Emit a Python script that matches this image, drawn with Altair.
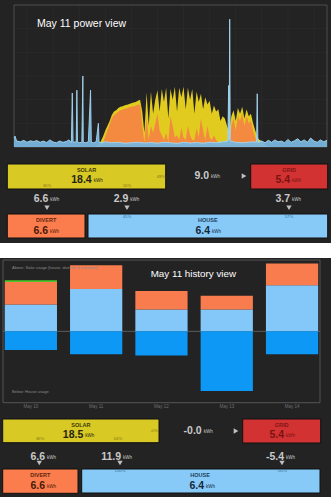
import altair as alt
import pandas as pd

# ======================= DATA =======================
# --- power view, May 11 (W) ---
solar_start_h = 6.0          # first solar sample 06:00
solar_step_min = 10          # one sample every 10 minutes
solar_w = [0, 20, 60, 120, 250, 450, 700, 900, 1100, 1350, 1500, 1550,
           1650, 1700, 1720, 1760, 1780, 1820, 1850, 1880, 1900, 1950, 2000, 1500,
           600, 2300, 900, 2350, 1400, 2000, 2400, 1500, 2450, 1900, 2500, 1200,
           2450, 2000, 2550, 1500, 2500, 2100, 2550, 1600, 2500, 2000, 2450, 1400,
           2350, 1900, 2250, 1600, 2100, 1800, 1950, 1400, 1750, 1500, 1600, 1100,
           1300, 1200, 900, 600, 1300, 1550, 1100, 1650, 1400, 1700, 1200, 1600,
           1300, 1400, 1000, 700, 400, 300, 250, 150, 60, 0]
divert_w = [0, 0, 0, 0, 50, 200, 450, 700, 950, 1200, 1350, 1400,
            1500, 1550, 1580, 1620, 1640, 1680, 1700, 1720, 1740, 1780, 1800, 900,
            200, 1200, 300, 900, 600, 1000, 1400, 700, 500, 300, 600, 200,
            1300, 900, 400, 500, 300, 800, 400, 300, 900, 500, 300, 300,
            800, 400, 1200, 700, 300, 900, 400, 300, 500, 300, 200, 100,
            100, 100, 100, 100, 900, 1200, 700, 1300, 1100, 1400, 900, 1300,
            1000, 1100, 700, 400, 150, 50, 0, 0, 0, 0]
house_h = [0.0, 0.08, 0.2, 0.5, 0.75, 1.0, 1.25, 1.5, 1.75, 2.0, 2.25, 2.5, 2.75,
           3.0, 3.25, 3.5, 3.75, 4.0, 4.2, 4.4, 4.47, 4.53, 4.77, 4.82, 4.87,
           5.0, 5.2, 5.28, 5.31, 5.5, 5.7, 5.87, 5.93, 6.1, 6.3, 6.47, 6.52,
           6.75, 7.0, 7.5, 8.0, 8.5, 9.0, 9.5, 10.0, 10.5, 11.0, 11.5, 12.0,
           12.5, 13.0, 13.5, 14.0, 14.5, 15.0, 15.5, 16.0, 16.4, 16.46, 16.5,
           16.54, 16.58, 17.0, 17.5, 18.0, 18.3, 18.6, 18.65, 18.7, 19.0, 19.25,
           19.5, 19.75, 20.0, 20.25, 20.5, 20.75, 21.0, 21.25, 21.5, 21.75, 22.0,
           22.25, 22.5, 22.75, 23.0, 23.25, 23.5, 23.75, 24.0]
house_w = [400, 460, 250, 220, 280, 200, 260, 230, 270, 200, 250, 190, 300,
           210, 180, 250, 200, 230, 300, 200, 2280, 200, 220, 2400, 220,
           180, 200, 3000, 200, 180, 220, 2400, 200, 180, 220, 1000, 200,
           180, 220, 180, 200, 160, 180, 200, 170, 190, 160, 200, 180,
           150, 200, 170, 190, 160, 200, 180, 220, 250, 2600, 300,
           5400, 250, 200, 180, 200, 220, 200, 2250, 200, 250, 180,
           280, 200, 300, 220, 250, 180, 320, 200, 260, 350, 220,
           300, 200, 380, 250, 200, 300, 220, 280]
power_y_ticks = [0, 1000, 2000, 3000, 4000, 5000, 6000]
power_x_ticks = [1, 3, 5, 7, 9, 11, 13, 15, 17, 19, 21, 23]

# --- history view (kWh per day) ---
hist_dates = ["May 10", "May 11", "May 12", "May 13", "May 14"]
hist_solar_house = [7.5, 11.9, 6.1, 6.1, 12.9]
hist_divert = [6.3, 6.6, 5.2, 3.9, 6.1]
hist_export = [0.5, 0.0, 0.0, 0.0, 0.0]
hist_house_use = [-5.2, -6.4, -6.8, -16.7, -6.4]

# --- summary panels (kWh and %) ---
power_summary = dict(solar=18.4, export=9.0, grid=5.4, divert=6.6, house=6.4,
                     solar_to_divert=6.6, solar_to_house=2.9, grid_to_house=3.7,
                     pct_divert=36, pct_house=16, pct_export=49,
                     house_pct_solar=45, house_pct_grid=57)
history_summary = dict(solar=18.5, export=-0.0, grid=5.4, divert=6.6, house=6.4,
                       solar_to_divert=6.6, solar_to_house=11.9, grid_to_house=-5.4,
                       pct_divert=36, pct_house=64, pct_export=-0.0,
                       house_pct_solar=100, house_pct_grid=-85)

titles = ["May 11 power view", "May 11 history view"]
hist_notes = ["Above: Solar usage (house, diverter & exported)", "Below: House usage"]

# ======================= STYLE / LAYOUT =======================
W = 331
DARK = "#232323"
FONT = "Liberation Sans"
TITLE_FONT = "Liberation Sans Narrow, Liberation Sans"
C_SOLAR, C_GRID, C_DIVERT, C_HOUSE = "#d9c925", "#d33232", "#fb7d4d", "#87caf8"
C_AREA_Y, C_AREA_O, C_AREA_B, C_LINE_B = "#e2cb1f", "#f38a40", "#78b5de", "#a4d6f2"
H_ORANGE, H_LIGHT, H_DARK, H_GREEN = "#f97c4e", "#84c8fa", "#0d98f5", "#4cc42a"

dark_view = alt.ViewBackground(fill=DARK, stroke=None)

# ======================= POWER CHART =======================
A1_H = 155
px_per_h = 313 / 24.0
px_per_w = 142 / 6000.0
xs = alt.Scale(domain=[-14 / px_per_h, 24 + 4 / px_per_h], nice=False, zero=False)
ys = alt.Scale(domain=[-(A1_H - 147) / px_per_w, 6000 + 5 / px_per_w], nice=False, zero=False)

solar_df = pd.DataFrame({
    "h": [solar_start_h + i * solar_step_min / 60.0 for i in range(len(solar_w))],
    "solar": solar_w, "divert": divert_w})
house_df = pd.DataFrame({"h": house_h, "house": house_w})

x_axis = alt.Axis(values=power_x_ticks, orient="bottom", offset=-(A1_H - 147),
                  labelExpr="(datum.value < 10 ? '0' : '') + datum.value + ':00'",
                  ticks=False, domain=False, grid=False, title=None,
                  labelFontSize=4.5, labelColor="#7a7a7a", labelPadding=2,
                  labelFlush=False, labelOverlap=False)
y_axis = alt.Axis(values=power_y_ticks, orient="left", offset=-14, format="d",
                  ticks=False, domain=False, grid=False, title=None,
                  labelFontSize=4, labelColor="#6a6a6a", labelPadding=1.5,
                  labelFlush=False, labelOverlap=False)

hgrid_df = pd.DataFrame({"v": power_y_ticks[1:], "h0": 0, "h1": 24})
vgrid_df = pd.DataFrame({"h": power_x_ticks, "v0": 0, "v1": 6000})
frame_df = pd.DataFrame({"h0": [0], "h1": [24], "v0": [0], "v1": [6000]})

hgrid = alt.Chart(hgrid_df).mark_rule(color="#2e2e2e", strokeWidth=0.6).encode(
    y=alt.Y("v:Q", scale=ys, axis=None),
    x=alt.X("h0:Q", scale=xs, axis=None), x2="h1:Q")
vgrid = alt.Chart(vgrid_df).mark_rule(color="#2e2e2e", strokeWidth=0.6).encode(
    x=alt.X("h:Q", scale=xs, axis=None),
    y=alt.Y("v0:Q", scale=ys, axis=None), y2="v1:Q")
frame = alt.Chart(frame_df).mark_rect(fillOpacity=0, stroke="#4d4d4d", strokeWidth=1).encode(
    x=alt.X("h0:Q", scale=xs, axis=None), x2="h1:Q",
    y=alt.Y("v0:Q", scale=ys, axis=None), y2="v1:Q")

solar_area = alt.Chart(solar_df).mark_area(color=C_AREA_Y).encode(
    x=alt.X("h:Q", scale=xs, axis=x_axis),
    y=alt.Y("solar:Q", scale=ys, axis=y_axis))
divert_area = alt.Chart(solar_df).mark_area(color=C_AREA_O).encode(
    x=alt.X("h:Q", scale=xs, axis=None), y=alt.Y("divert:Q", scale=ys, axis=None))
house_area = alt.Chart(house_df).mark_area(color=C_AREA_B, opacity=0.95).encode(
    x=alt.X("h:Q", scale=xs, axis=None), y=alt.Y("house:Q", scale=ys, axis=None))
house_line = alt.Chart(house_df).mark_line(color=C_LINE_B, strokeWidth=0.9).encode(
    x=alt.X("h:Q", scale=xs, axis=None), y=alt.Y("house:Q", scale=ys, axis=None))
power_title = alt.Chart(pd.DataFrame({"t": [titles[0]]})).mark_text(
    align="left", baseline="alphabetic", fontSize=10.5, color="white",
    font=TITLE_FONT).encode(x=alt.value(37), y=alt.value(26.7), text="t:N")

power_chart = alt.layer(hgrid, vgrid, frame, solar_area, divert_area, house_area,
                        house_line, power_title).properties(
    width=W, height=A1_H, view=dark_view)


# ======================= SUMMARY PANELS =======================
def summary_panel(v, L, H):
    # identity pixel scales: x domain [0, W] -> [0, W]; y domain [H, 0] -> [H, 0]
    sx = alt.Scale(domain=[0, W], nice=False, zero=False)
    sy = alt.Scale(domain=[H, 0], nice=False, zero=False)
    X = alt.X("x:Q", scale=sx, axis=None)
    Y = alt.Y("y:Q", scale=sy, axis=None)
    fills = {"solar": C_SOLAR, "grid": C_GRID, "divert": C_DIVERT, "house": C_HOUSE}
    names = {"solar": "SOLAR", "grid": "GRID", "divert": "DIVERT", "house": "HOUSE"}
    name_col = {"solar": "#3d380a", "grid": "#7e1616", "divert": "#5e2512", "house": "#1e3b58"}
    num_col = {"solar": "#252510", "grid": "#7a1212", "divert": "#4a1a08", "house": "#15283c"}

    box_rows, lab_rows, num_rows = [], [], []
    for k in ["solar", "grid", "divert", "house"]:
        x0, y0, x1, y1 = L["box"][k]
        box_rows.append(dict(x=x0, x2=x1, y=y0, y2=y1, c=fills[k]))
        lab_rows.append(dict(x=(x0 + x1) / 2 + L["lab_dx"][k], y=y0 + 6, t=names[k], c=name_col[k]))
        xr, yy = L["num"][k]
        num_rows.append(dict(x=xr, y=yy, t=f"{v[k]:.1f}", c=num_col[k]))
    for k in ["export", "solar_to_divert", "solar_to_house", "grid_to_house"]:
        xr, yy = L["num"][k]
        num_rows.append(dict(x=xr, y=yy, t=f"{v[k]:.1f}", c="#c9c9c9"))
    pct_rows = []
    for k, col in [("pct_divert", "#857a16"), ("pct_house", "#857a16"),
                   ("pct_export", "#857a16"), ("house_pct_solar", "#3e7096"),
                   ("house_pct_grid", "#3e7096")]:
        xx, yy = L["pct"][k]
        pct_rows.append(dict(x=xx, y=yy, t=f"{v[k]:.0f}%", c=col))
    unit_rows = [dict(x=r["x"] + 2, y=r["y"] + 1.3, t="kWh", c=r["c"]) for r in num_rows]
    tri_rows = [dict(x=xx, y=yy, s=s) for (s, xx, yy) in L["tri"]]

    boxes = alt.Chart(pd.DataFrame(box_rows)).mark_rect(stroke="#111111", strokeWidth=1).encode(
        x=X, x2="x2:Q", y=Y, y2="y2:Q", color=alt.Color("c:N", scale=None))
    labels = alt.Chart(pd.DataFrame(lab_rows)).mark_text(
        fontSize=5.5, fontWeight="bold", font=FONT, baseline="middle").encode(
        x=X, y=Y, text="t:N", color=alt.Color("c:N", scale=None))
    nums = alt.Chart(pd.DataFrame(num_rows)).mark_text(
        fontSize=10.5, fontWeight="bold", font=FONT, align="right", baseline="middle").encode(
        x=X, y=Y, text="t:N", color=alt.Color("c:N", scale=None))
    units = alt.Chart(pd.DataFrame(unit_rows)).mark_text(
        fontSize=4.5, font=FONT, align="left", baseline="middle").encode(
        x=X, y=Y, text="t:N", color=alt.Color("c:N", scale=None))
    pcts = alt.Chart(pd.DataFrame(pct_rows)).mark_text(
        fontSize=4.3, font=FONT, baseline="middle").encode(
        x=X, y=Y, text="t:N", color=alt.Color("c:N", scale=None))
    tris = alt.Chart(pd.DataFrame(tri_rows)).mark_point(
        filled=True, size=28, color="#c0c0c0", opacity=1).encode(
        x=X, y=Y, shape=alt.Shape("s:N", scale=None))
    return alt.layer(boxes, labels, nums, units, pcts, tris).properties(
        width=W, height=H, view=dark_view)


A2_H = 88
L_top = dict(
    box={"solar": (7.3, 9, 165.7, 34), "grid": (250.7, 9, 327.7, 34),
         "divert": (7.3, 59, 85, 83), "house": (88, 59, 327.7, 83)},
    lab_dx={"solar": 0, "grid": 0, "divert": 0, "house": 0},
    num={"solar": (91.7, 24.5), "grid": (290, 24.5), "divert": (48, 75.5), "house": (210, 75.5),
         "export": (209, 21), "solar_to_divert": (48.3, 44), "solar_to_house": (128.3, 44),
         "grid_to_house": (290, 44)},
    pct={"pct_divert": (47, 30.5), "pct_house": (127, 30.5), "pct_export": (161, 21.7),
         "house_pct_solar": (127, 62), "house_pct_grid": (289, 62)},
    tri=[("triangle-right", 244, 21), ("triangle-down", 47, 52.7),
         ("triangle-down", 127, 52.7), ("triangle-down", 289, 52.7)])

B2_H = 87
L_bot = dict(
    box={"solar": (2.7, 9, 159, 32.7), "grid": (242.7, 9, 320.7, 33),
         "divert": (2.7, 59, 78, 83.3), "house": (81.7, 59, 320, 83)},
    lab_dx={"solar": 0, "grid": 0, "divert": 0, "house": -0.8},
    num={"solar": (83.3, 25), "grid": (284, 25), "divert": (45, 76), "house": (204, 76),
         "export": (201.7, 21), "solar_to_divert": (45, 46.7), "solar_to_house": (121, 46.7),
         "grid_to_house": (284, 46.7)},
    pct={"pct_divert": (40, 29), "pct_house": (118, 29), "pct_export": (154, 21),
         "house_pct_solar": (120, 61), "house_pct_grid": (282, 61)},
    tri=[("triangle-right", 236, 21), ("triangle-down", 39.3, 53),
         ("triangle-down", 120, 53), ("triangle-down", 282, 53)])

# ======================= HISTORY CHART =======================
B1_H = 152
parts = ["house_solar", "divert", "export", "house_use"]
hist_rows = []
for i, d in enumerate(hist_dates):
    for o, (p, vals) in enumerate(zip(parts, [hist_solar_house, hist_divert,
                                               hist_export, hist_house_use])):
        hist_rows.append(dict(date=d, part=p, kwh=vals[i], ord=o))
hist_df = pd.DataFrame(hist_rows)

# value -20 sits at pixel 144.7 and +20 at pixel 2 of the 152 px panel
k_px = (144.7 - 2) / 40.0
zero_px = 144.7 - 20 * k_px
hy = alt.Scale(domain=[(zero_px - B1_H) / k_px, zero_px / k_px], nice=False, zero=False)
hx = alt.Scale(domain=hist_dates, paddingInner=0.2, paddingOuter=0.1345, align=0.27)

h_frame = alt.Chart(pd.DataFrame({"lo": [-20], "hi": [20]})).mark_rect(
    fillOpacity=0, stroke="#555555", strokeWidth=1).encode(
    x=alt.value(3), x2=alt.value(320),
    y=alt.Y("hi:Q", scale=hy, axis=None), y2="lo:Q")
h_zero = alt.Chart(pd.DataFrame({"z": [0]})).mark_rule(
    color="#6a6a6a", strokeWidth=0.8).encode(
    x=alt.value(3), x2=alt.value(320), y=alt.Y("z:Q", scale=hy, axis=None))
h_bars = alt.Chart(hist_df).mark_bar().encode(
    x=alt.X("date:N", scale=hx, sort=hist_dates,
            axis=alt.Axis(orient="bottom", offset=-(B1_H - 144.7), ticks=False,
                          domain=False, grid=False, title=None, labelAngle=0,
                          labelFontSize=4.5, labelColor="#6f6f6f", labelPadding=1)),
    y=alt.Y("kwh:Q", scale=hy, stack="zero", axis=None),
    color=alt.Color("part:N", scale=alt.Scale(domain=parts,
                    range=[H_LIGHT, H_ORANGE, H_GREEN, H_DARK]), legend=None),
    order=alt.Order("ord:Q"))
h_note1 = alt.Chart(pd.DataFrame({"t": [hist_notes[0]]})).mark_text(
    align="left", baseline="middle", fontSize=4, color="#8a8a8a", font=FONT).encode(
    x=alt.value(12), y=alt.value(10.3), text="t:N")
h_note2 = alt.Chart(pd.DataFrame({"t": [hist_notes[1]]})).mark_text(
    align="left", baseline="middle", fontSize=4, color="#8a8a8a", font=FONT).encode(
    x=alt.value(12), y=alt.value(134.3), text="t:N")
h_title = alt.Chart(pd.DataFrame({"t": [titles[1]]})).mark_text(
    align="left", baseline="alphabetic", fontSize=9.8, color="white",
    font=TITLE_FONT).encode(x=alt.value(150.7), y=alt.value(19.3), text="t:N")

history_chart = alt.layer(h_frame, h_zero, h_bars, h_note1, h_note2, h_title).properties(
    width=W, height=B1_H, view=dark_view)

# white strip between the two screenshots
GAP_H = 15
gap = alt.Chart(pd.DataFrame({"t": [""]})).mark_text().encode(
    x=alt.value(0), y=alt.value(0), text="t:N").properties(
    width=W, height=GAP_H, view=alt.ViewBackground(fill="white", stroke=None))

# ======================= ASSEMBLY =======================
chart = alt.vconcat(
    power_chart,
    summary_panel(power_summary, L_top, A2_H),
    gap,
    history_chart,
    summary_panel(history_summary, L_bot, B2_H),
    spacing=0, bounds="flush",
).properties(padding=0, background="white").configure(font=FONT).configure_view(strokeWidth=0)

chart.save("out.html", embed_options={"renderer": "svg", "actions": False})
